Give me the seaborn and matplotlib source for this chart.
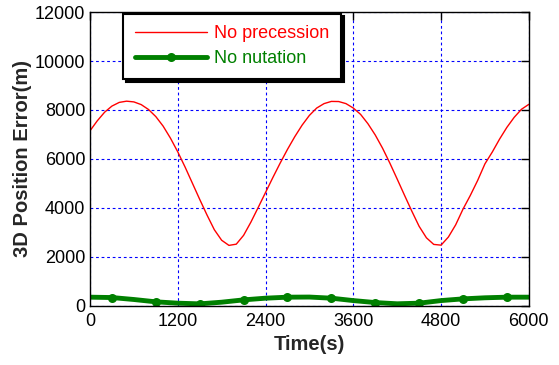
import numpy as np
import pandas as pd
import matplotlib
matplotlib.use("Agg")
import matplotlib.pyplot as plt
import seaborn as sns

# Time axis (s) and position error (m)
time_red = list(range(0, 6001, 100))
no_precession = [
    7150, 7560, 7910, 8160, 8310, 8360, 8330, 8220, 8020, 7730,
    7340, 6850, 6290, 5670, 5010, 4350, 3710, 3110, 2680, 2470,
    2520, 2880, 3420, 4020, 4630, 5240, 5830, 6390, 6910, 7380,
    7780, 8080, 8260, 8350, 8345, 8260, 8080, 7820, 7440, 6980,
    6440, 5830, 5180, 4520, 3870, 3250, 2780, 2510, 2480, 2810,
    3310, 3950, 4510, 5120, 5800, 6280, 6810, 7290, 7700, 8030,
    8230,
]

time_green = list(range(0, 6001, 300))
no_nutation = [
    355, 340, 260, 165, 110, 82, 150, 245, 314, 355,
    360, 314, 216, 135, 85, 110, 216, 286, 330, 355,
    355,
]

x_ticks = [0, 1200, 2400, 3600, 4800, 6000]
y_ticks = [0, 2000, 4000, 6000, 8000, 10000, 12000]

df_red = pd.DataFrame({"Time": time_red, "Error": no_precession})
df_green = pd.DataFrame({"Time": time_green, "Error": no_nutation})

sns.set_style("white")
plt.rcParams["font.family"] = ["Liberation Sans", "DejaVu Sans"]

fig = plt.figure(figsize=(5.59, 3.65), dpi=100)
ax = fig.add_axes([0.161, 0.162, 0.785, 0.805])

sns.lineplot(data=df_red, x="Time", y="Error", color="#ff0000", lw=1.0,
             label="No precession", ax=ax)
sns.lineplot(data=df_green, x="Time", y="Error", color="#008000", lw=3.5,
             marker="o", markersize=6.5, markeredgewidth=0,
             markevery=slice(1, None, 2), label="No nutation", ax=ax)

ax.set_xlim(0, 6000)
ax.set_ylim(0, 12000)
ax.set_xticks(x_ticks)
ax.set_yticks(y_ticks)
ax.tick_params(direction="in", length=6, width=1, labelsize=13,
               top=True, right=True, colors="black")
ax.tick_params(axis="x", pad=5)
ax.grid(True, color="#0000ff", linestyle=(0, (2.5, 2.5)), linewidth=0.8)

for s in ax.spines.values():
    s.set_color("black")
    s.set_linewidth(1.0)

ax.set_xlabel("Time(s)", fontsize=14.5, fontweight="bold", labelpad=4)
ax.set_ylabel("3D Position Error(m)", fontsize=14.5, fontweight="bold", labelpad=2)

leg = ax.legend(loc="upper left", bbox_to_anchor=(0.075, 0.995), fontsize=13,
                labelcolor="linecolor", handlelength=4.0, handletextpad=0.4,
                frameon=True, fancybox=False, borderpad=0.65, labelspacing=0.45,
                borderaxespad=0.0,
                shadow={"color": "black", "alpha": 1})
leg.get_frame().set_edgecolor("black")
leg.get_frame().set_linewidth(1.5)
leg.get_frame().set_alpha(1)

fig.savefig("out.png", dpi=100)
